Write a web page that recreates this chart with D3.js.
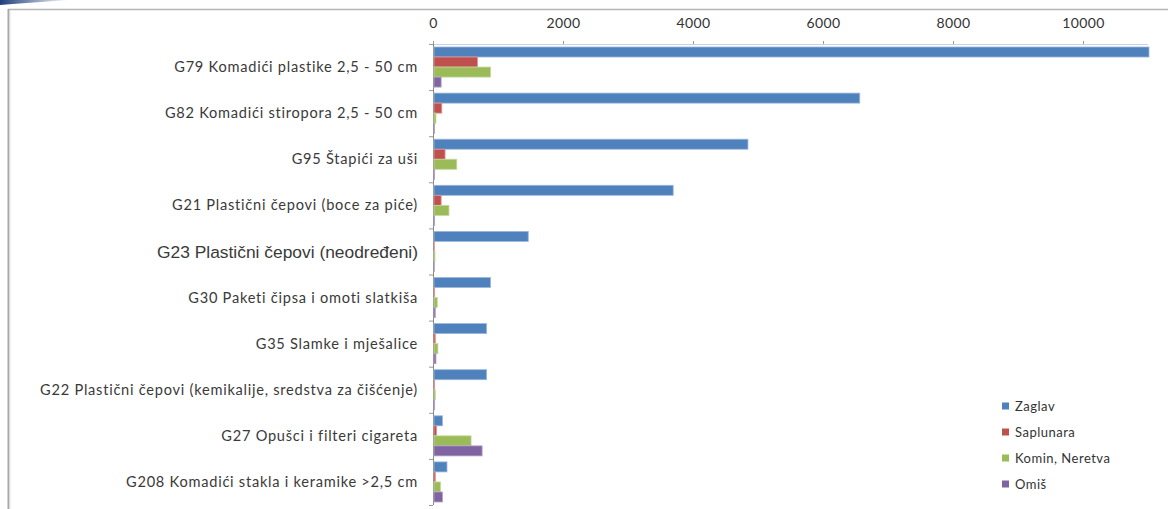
<!DOCTYPE html>
<html><head><meta charset="utf-8">
<script src="https://cdn.jsdelivr.net/npm/d3@7"></script>
<style>html,body{margin:0;padding:0;background:#fff;overflow:hidden}</style>
</head><body>
<svg id="c" width="1168" height="509"></svg>
<script>
const categories = [
  "G79 Komadići plastike 2,5 - 50 cm",
  "G82 Komadići stiropora 2,5 - 50 cm",
  "G95 Štapići za uši",
  "G21 Plastični čepovi (boce za piće)",
  "G23 Plastični čepovi (neodređeni)",
  "G30 Paketi čipsa i omoti slatkiša",
  "G35 Slamke i mješalice",
  "G22 Plastični čepovi (kemikalije, sredstva za čišćenje)",
  "G27 Opušci i filteri cigareta",
  "G208 Komadići stakla i keramike >2,5 cm"
];
const seriesNames = ["Zaglav", "Saplunara", "Komin, Neretva", "Omiš"];
const zaglav    = [11000, 6550, 4830, 3680, 1450, 870, 810, 810, 130, 200];
const saplunara = [670, 120, 170, 110, 5, 10, 20, 10, 40, 20];
const komin     = [870, 30, 350, 230, 15, 50, 60, 20, 570, 100];
const omis      = [110, 10, 10, 10, 5, 20, 30, 10, 740, 130];
const xTicks = [0, 2000, 4000, 6000, 8000, 10000];
const colors = ["#4F81BD", "#C0504D", "#9BBB59", "#8064A2"];
const edge = ["#9db7da", "#dc9896", "#c3d79b", "#b3a2c7"];

const series = [zaglav, saplunara, komin, omis];
const svg = d3.select("#c");

// frame + logo fragment
const grad = svg.append("defs").append("linearGradient").attr("id","lg");
grad.append("stop").attr("offset","0").attr("stop-color","#1f3f7a");
grad.append("stop").attr("offset","1").attr("stop-color","#1f3f7a").attr("stop-opacity",0);
svg.append("path").attr("d","M0,0 L70,0 Q40,2 0,5 Z").attr("fill","url(#lg)");
svg.append("line").attr("x1",8).attr("x2",1168).attr("y1",9.5).attr("y2",9.5).attr("stroke","#b5b5b5").attr("stroke-width",1.5);
svg.append("line").attr("x1",8.5).attr("x2",8.5).attr("y1",9).attr("y2",509).attr("stroke","#a8a8a8").attr("stroke-width",2);
svg.append("line").attr("x1",10).attr("x2",10).attr("y1",11).attr("y2",509).attr("stroke","#e4e4e4").attr("stroke-width",1);

const x = d3.scaleLinear().domain([0, 11000]).range([433, 1148]);
const y = d3.scaleBand().domain(categories).range([44, 505]).paddingInner(0).paddingOuter(0);
const inner = d3.scaleBand().domain(d3.range(4)).range([3, y.bandwidth() - 3]);

// top axis
const xAxis = d3.axisTop(x).tickValues(xTicks).tickSize(3).tickFormat(d3.format("d"));
const gx = svg.append("g").attr("transform","translate(0,44)").call(xAxis);
gx.select(".domain").attr("stroke","#c8d2e4").attr("d","M433,0.5H1148");
gx.selectAll(".tick line").attr("stroke","#999");
gx.selectAll(".tick text").attr("y",-16).attr("fill","#333")
  .style("font-family","Lato, sans-serif").style("font-size","14px").style("letter-spacing","0.4px");

// left axis
const yAxis = d3.axisLeft(y).tickSize(0).tickFormat("");
const gy = svg.append("g").attr("transform","translate(433,0)").call(yAxis);
gy.select(".domain").attr("stroke","#8a8a8a").attr("d","M0.5,44V505");
const bounds = categories.map(c => y(c)).concat([505]);
svg.append("g").selectAll("line").data(bounds).join("line")
  .attr("x1",429).attr("x2",433).attr("y1",d=>d+0.5).attr("y2",d=>d+0.5).attr("stroke","#999");

// category labels
svg.append("g").selectAll("text").data(categories).join("text")
  .attr("x",418).attr("y",c => y(c) + y.bandwidth()/2)
  .attr("dy","0.35em").attr("text-anchor","end").attr("fill","#3a3a3a")
  .style("font-family", (c,i) => i === 4 ? "'Liberation Sans', Arial, sans-serif" : "Lato, sans-serif")
  .style("font-size", (c,i) => i === 4 ? "17.4px" : "14.6px")
  .style("letter-spacing", (c,i) => i === 4 ? "0px" : "0.75px")
  .text(c => c);

// bars
series.forEach((vals, si) => {
  svg.append("g").selectAll("rect").data(vals).join("rect")
    .attr("x", x(0) + 1)
    .attr("y", (v,i) => y(categories[i]) + inner(si))
    .attr("width", v => Math.max(0, x(v) - x(0)))
    .attr("height", inner.bandwidth())
    .attr("fill", colors[si])
    .attr("stroke", edge[si]).attr("stroke-width", 0.8);
});

// legend
const lg = svg.append("g").selectAll("g").data(seriesNames).join("g")
  .attr("transform", (d,i) => `translate(1002,${406 + i*26})`);
lg.append("rect").attr("x",0).attr("y",-3.5).attr("width",7).attr("height",7).attr("fill",(d,i)=>colors[i]);
lg.append("text").attr("x",13).attr("dy","0.35em").attr("fill","#333")
  .style("font-family","Lato, sans-serif").style("font-size","13px").style("letter-spacing","0.5px").text(d=>d);
</script>
</body></html>
